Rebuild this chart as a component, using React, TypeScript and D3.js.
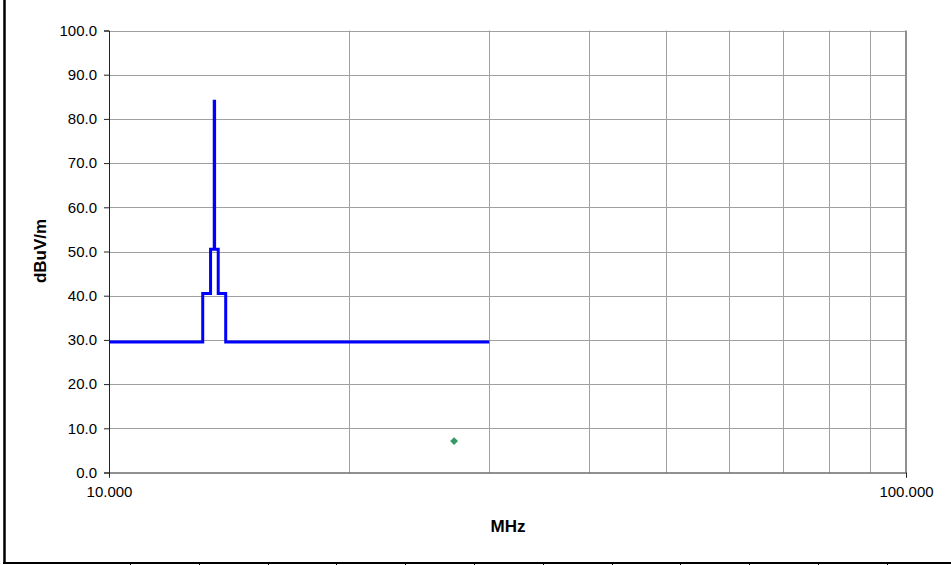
import { useEffect, useRef } from "react";
import * as d3 from "d3";

// limit mask (step line), MHz / dBuV/m
const limitFreq = [10, 13.11, 13.11, 13.41, 13.41, 13.553, 13.553, 13.567, 13.567, 13.71, 13.71, 14.01, 14.01, 30];
const limitLevel = [29.5, 29.5, 40.5, 40.5, 50.5, 50.5, 84, 84, 50.5, 50.5, 40.5, 40.5, 29.5, 29.5];

// measured emissions
const measFreq = [27.1];
const measLevel = [7.1];

const yTicks = [0, 10, 20, 30, 40, 50, 60, 70, 80, 90, 100];
const xLabelTicks = [10, 100];
const xGridTicks = [20, 30, 40, 50, 60, 70, 80, 90];

const W = 951;
const H = 565;
const plot = { left: 109, right: 906, top: 30.5, bottom: 472.5 };
const FONT = "Arial, 'Liberation Sans', sans-serif";

export default function App() {
  const svgRef = useRef<SVGSVGElement>(null);

  useEffect(() => {
    if (!svgRef.current) return;
    const svg = d3.select(svgRef.current);
    svg.selectAll("*").remove();

    const x = d3.scaleLog().domain([10, 100]).range([plot.left, plot.right]);
    const y = d3.scaleLinear().domain([0, 100]).range([plot.bottom, plot.top]);

    svg.append("rect").attr("width", W).attr("height", H).attr("fill", "#fff");

    // outer frame (sheet cell borders)
    svg.append("line")
      .attr("x1", 4.5).attr("x2", 4.5).attr("y1", 0).attr("y2", 564)
      .attr("stroke", "#000").attr("stroke-width", 2.5);
    svg.append("line")
      .attr("x1", 3).attr("x2", W).attr("y1", 563).attr("y2", 563)
      .attr("stroke", "#000").attr("stroke-width", 2);
    svg.selectAll(".cell")
      .data(d3.range(12).map((i) => 130 + i * 68.8))
      .join("line")
      .attr("x1", (d) => Math.round(d) + 0.5).attr("x2", (d) => Math.round(d) + 0.5)
      .attr("y1", 563).attr("y2", H)
      .attr("stroke", "#000").attr("stroke-width", 1);

    // grid
    svg.append("g")
      .selectAll("line")
      .data(yTicks.slice(1))
      .join("line")
      .attr("x1", plot.left).attr("x2", plot.right)
      .attr("y1", (d) => Math.round(y(d)) + 0.5).attr("y2", (d) => Math.round(y(d)) + 0.5)
      .attr("stroke", "#a0a0a0");
    svg.append("g")
      .selectAll("line")
      .data(xGridTicks)
      .join("line")
      .attr("x1", (d) => Math.round(x(d)) + 0.5).attr("x2", (d) => Math.round(x(d)) + 0.5)
      .attr("y1", plot.top).attr("y2", plot.bottom)
      .attr("stroke", "#a0a0a0");
    svg.append("line")
      .attr("x1", plot.right).attr("x2", plot.right)
      .attr("y1", plot.top).attr("y2", plot.bottom)
      .attr("stroke", "#909090").attr("stroke-width", 2);

    // axes
    const yAxis = svg.append("g")
      .attr("transform", `translate(${plot.left},0)`)
      .call(d3.axisLeft(y).tickValues(yTicks).tickFormat(d3.format(".1f")).tickSize(5).tickPadding(7));
    const xAxis = svg.append("g")
      .attr("transform", `translate(0,${plot.bottom})`)
      .call(d3.axisBottom(x).tickValues(xLabelTicks).tickFormat(d3.format(".3f")).tickSize(5).tickPadding(9));
    [yAxis, xAxis].forEach((a) => {
      a.select(".domain").attr("stroke", "#222");
      a.selectAll(".tick line").attr("stroke", "#222");
      a.selectAll(".tick text")
        .attr("fill", "#000")
        .style("font-family", FONT)
        .style("font-size", "15px");
    });

    // limit line
    const line = d3.line<number>()
      .x((_, i) => x(limitFreq[i]))
      .y((d) => y(d));
    svg.append("path")
      .datum(limitLevel)
      .attr("d", line)
      .attr("fill", "none")
      .attr("stroke", "#0000ff")
      .attr("stroke-width", 3)
      .attr("stroke-linejoin", "miter");

    // measurement points
    svg.append("g")
      .selectAll("path")
      .data(measLevel)
      .join("path")
      .attr("d", d3.symbol().type(d3.symbolDiamond2).size(40))
      .attr("transform", (d, i) => `translate(${x(measFreq[i])},${y(d)})`)
      .attr("fill", "#339966");

    // axis titles
    svg.append("text")
      .attr("x", (plot.left + plot.right) / 2 + 0.5)
      .attr("y", 532)
      .attr("text-anchor", "middle")
      .style("font-family", FONT)
      .style("font-size", "17px")
      .style("font-weight", "bold")
      .text("MHz");
    svg.append("text")
      .attr("transform", `translate(46,251) rotate(-90)`)
      .attr("text-anchor", "middle")
      .style("font-family", FONT)
      .style("font-size", "17px")
      .style("font-weight", "bold")
      .text("dBuV/m");
  }, []);

  return (
    <svg
      ref={svgRef}
      width={W}
      height={H}
      style={{ position: "absolute", left: 0, top: 0, display: "block" }}
    />
  );
}
